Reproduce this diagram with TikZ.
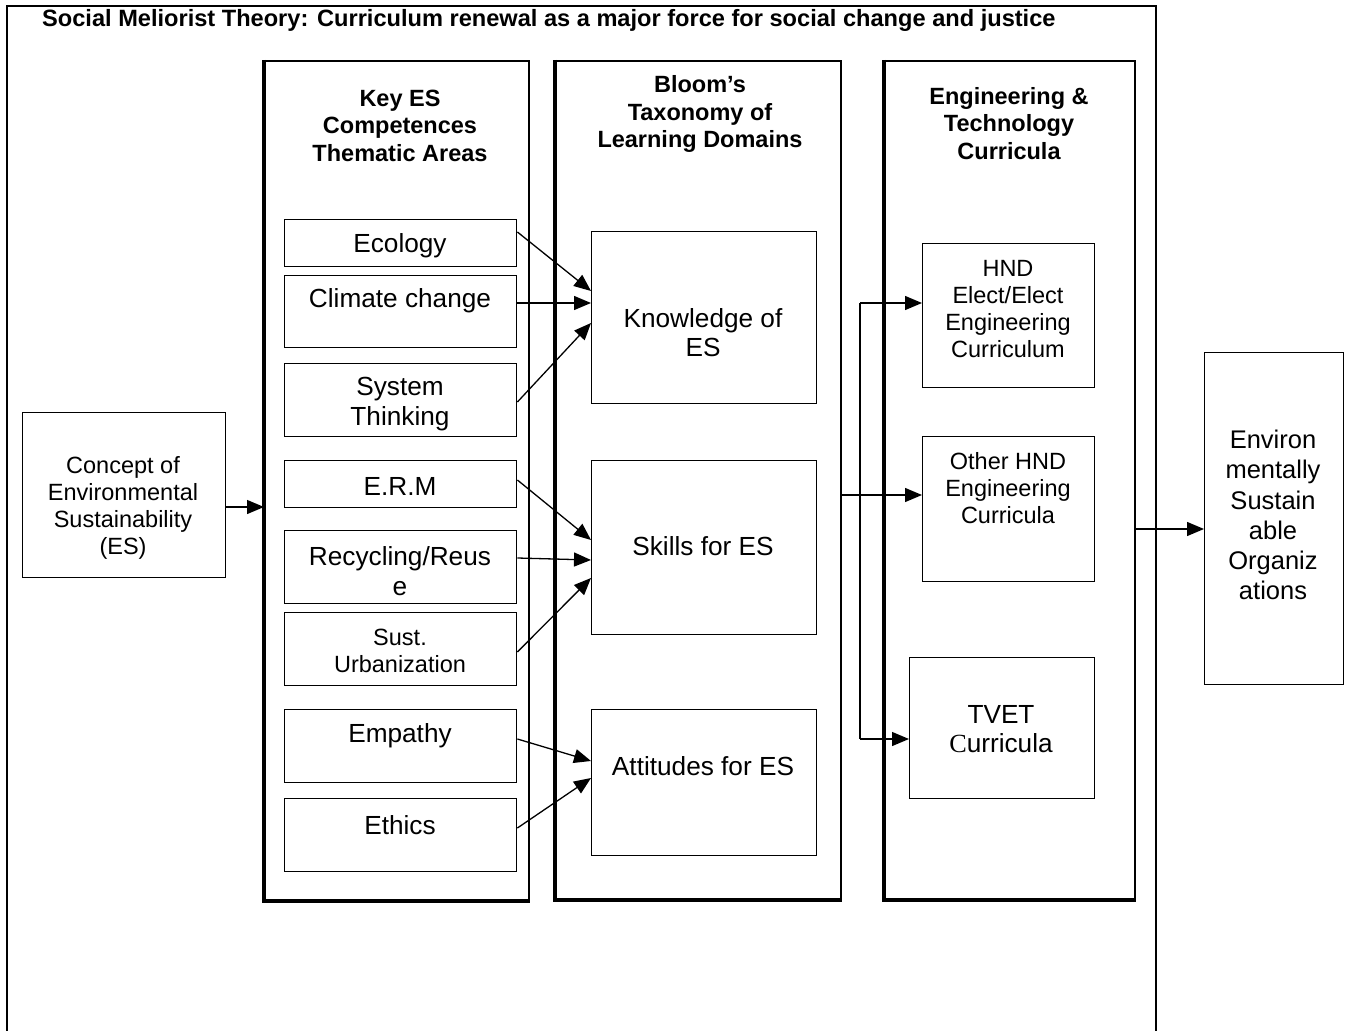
\documentclass[tikz,border=0pt]{standalone}
\usepackage{fontspec}
\setmainfont{Liberation Sans}
\newfontfamily\serifC{Liberation Serif}
\usetikzlibrary{arrows.meta,calc}
\begin{document}
\begin{tikzpicture}[x=1pt,y=-1pt,
 box/.style={draw,line width=1.4pt,anchor=north west,inner sep=0pt},
 colbox/.style={draw,line width=2pt,anchor=north west,inner sep=0pt},
 txt/.style={align=center,font=\fontsize{26.2}{29.5}\selectfont,inner sep=0pt},
 stxt/.style={align=center,font=\fontsize{23.5}{27}\selectfont,inner sep=0pt},
 htxt/.style={align=center,font=\bfseries\fontsize{23.5}{27.5}\selectfont,inner sep=0pt},
 arr/.style={line width=1.3pt,-{Triangle[length=17pt,width=14pt]}},
 shade/.style={line width=3.4pt},
]
\useasboundingbox (0,0) rectangle (1348,1030);
% outer frame
\draw[line width=2pt] (7,1040) -- (7,6) -- (1156,6) -- (1156,1040);
\node[anchor=west,font=\bfseries\fontsize{23.6}{27}\selectfont,inner sep=0pt] (title) at (42,20)
 {Social Meliorist Theory: Curriculum renewal as a major force for social change and justice};

% columns
\node[colbox,minimum width=264pt,minimum height=839pt] (c1) at (264,60) {};
\node[colbox,minimum width=285pt,minimum height=838pt] (c2) at (555,60) {};
\node[colbox,minimum width=250pt,minimum height=838pt] (c3) at (884,60) {};
\draw[shade] (c1.north west) -- (c1.south west) -- (c1.south east);
\draw[shade] (c2.north west) -- (c2.south west) -- (c2.south east);
\draw[shade] (c3.north west) -- (c3.south west) -- (c3.south east);

\node[htxt] (h1) at (400,125.5) {Key ES\\Competences\\Thematic Areas};
\node[htxt] (h2) at (700,114) {Bloom’s\\Taxonomy of\\Learning Domains};
\node[htxt] (h3) at (1009,123.5) {Engineering \&\\Technology\\Curricula};

% column 1 boxes
\node[box,minimum width=232pt,minimum height=47pt] (eco) at (284,219) {};
\node[box,minimum width=232pt,minimum height=72pt] (cli) at (284,275) {};
\node[box,minimum width=232pt,minimum height=73pt] (sys) at (284,363) {};
\node[box,minimum width=232pt,minimum height=47pt] (erm) at (284,460) {};
\node[box,minimum width=232pt,minimum height=73pt] (rec) at (284,530) {};
\node[box,minimum width=232pt,minimum height=73pt] (sus) at (284,612) {};
\node[box,minimum width=232pt,minimum height=73pt] (emp) at (284,709) {};
\node[box,minimum width=232pt,minimum height=73pt] (eth) at (284,798) {};
\node[txt] (teco) at (400,246) {Ecology};
\node[txt] (tcli) at (400,301) {Climate change};
\node[txt] (tsys) at (400,404) {System\\Thinking};
\node[txt] (term) at (400,486) {E.R.M};
\node[txt] (trec) at (400,571) {Recycling/Reus\\e};
\node[stxt] (tsus) at (400,650.5) {Sust.\\Urbanization};
\node[txt] (temp) at (400,736) {Empathy};
\node[txt] (teth) at (400,825) {Ethics};

% column 2 boxes
\node[box,minimum width=225pt,minimum height=172pt] (kno) at (591,231) {};
\node[box,minimum width=225pt,minimum height=174pt] (ski) at (591,460) {};
\node[box,minimum width=225pt,minimum height=146pt] (att) at (591,709) {};
\node[txt] (tkno) at (703,332.5) {Knowledge of\\ES};
\node[txt] (tski) at (703,546) {Skills for ES};
\node[txt] (tatt) at (703,766) {Attitudes for ES};

% column 3 boxes
\node[box,minimum width=172pt,minimum height=144pt] (hnd) at (922,243) {};
\node[box,minimum width=172pt,minimum height=145pt] (oth) at (922,436) {};
\node[box,minimum width=185pt,minimum height=141pt] (tve) at (909,657) {};
\node[stxt] (thnd) at (1008,309) {HND\\Elect/Elect\\Engineering\\Curriculum};
\node[stxt] (toth) at (1008,488) {Other HND\\Engineering\\Curricula};
\node[txt] (ttve) at (1001,729) {TVET\\{\serifC C}urricula};

% side boxes
\node[box,minimum width=203pt,minimum height=165pt] (con) at (22,412) {};
\node[stxt] (tcon) at (123,507.5) {Concept of\\Environmental\\Sustainability\\(ES)};
\node[box,minimum width=139pt,minimum height=332pt] (env) at (1204,352) {};
\node[font=\fontsize{25.5}{30.2}\selectfont,align=center,inner sep=0pt] (tenv) at (1273,515)
 {Environ\\mentally\\Sustain\\able\\Organiz\\ations};

% connectors
\draw[arr] (con.east |- {(0,507)}) -- (c1.west |- {(0,507)});
\draw[arr] (eco.east |- {(0,232)}) -- (kno.west |- {(0,291)});
\draw[arr] (cli.east |- {(0,303)}) -- (kno.west |- {(0,303)});
\draw[arr] (sys.east |- {(0,402)}) -- (kno.west |- {(0,323)});
\draw[arr] (erm.east |- {(0,480)}) -- (ski.west |- {(0,540)});
\draw[arr] (rec.east |- {(0,558)}) -- (ski.west |- {(0,560)});
\draw[arr] (sus.east |- {(0,652)}) -- (ski.west |- {(0,578)});
\draw[arr] (emp.east |- {(0,739)}) -- (att.west |- {(0,761)});
\draw[arr] (eth.east |- {(0,828)}) -- (att.west |- {(0,778)});

\coordinate (vt) at (860,303);
\coordinate (vb) at (860,739);
\draw[line width=1.3pt] (vt) -- (vb);
\draw[arr] (vt) -- (hnd.west |- vt);
\draw[arr] (vb) -- (tve.west |- vb);
\draw[arr] (c2.east |- {(0,495)}) -- (oth.west |- {(0,495)});
\draw[arr] (c3.east |- {(0,529)}) -- (env.west |- {(0,529)});
\end{tikzpicture}
\end{document}
